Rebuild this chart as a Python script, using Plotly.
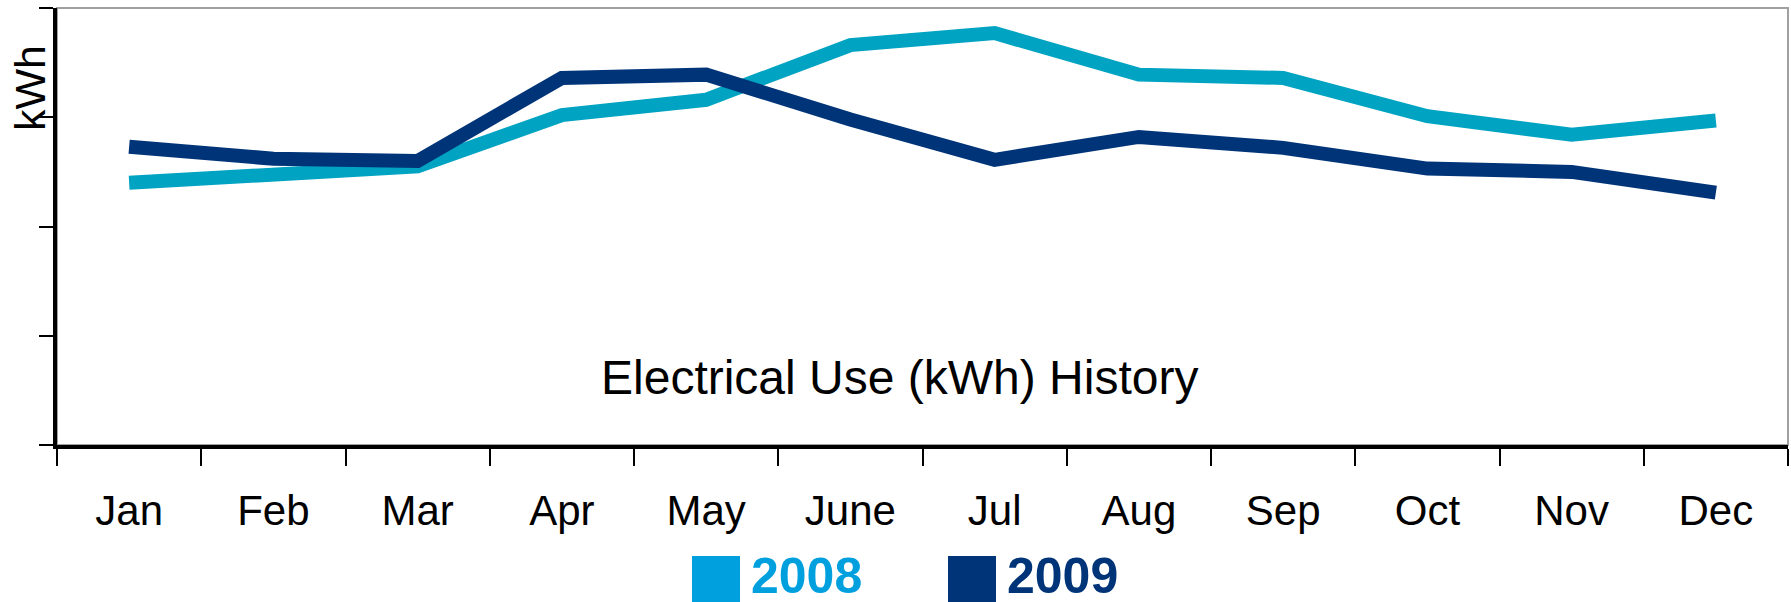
import plotly.graph_objects as go

months = ["Jan", "Feb", "Mar", "Apr", "May", "June", "Jul", "Aug", "Sep", "Oct", "Nov", "Dec"]
use_2008 = [240, 248, 255, 302, 316, 366, 377, 339, 336, 301, 284, 297]
use_2009 = [273, 262, 260, 336, 339, 298, 261, 282, 272, 253, 250, 231]
y_ticks = [0, 100, 200, 300, 400]
series_names = ["2008", "2009"]
line_colors = ["#00A3C1", "#003478"]
legend_colors = ["#00A0DF", "#003478"]

fig = go.Figure()
for name, vals, col in zip(series_names, [use_2008, use_2009], line_colors):
    fig.add_trace(go.Scatter(x=months, y=vals, mode="lines", name=name,
                             line=dict(color=col, width=14), showlegend=False))

W, H = 1791, 602
ml, mr, mt, mb = 57, 3, 8, 157
pw = W - ml - mr
ph = H - mt - mb


def px_x(px):
    return (px - ml) / pw


def px_y(py):
    return (H - mb - py) / ph


fig.update_layout(
    width=W, height=H,
    margin=dict(l=ml, r=mr, t=mt, b=mb),
    plot_bgcolor="white", paper_bgcolor="white",
    font=dict(family="Liberation Sans, Arial, sans-serif", color="black"),
    xaxis=dict(type="category", range=[-0.5, 11.5], tickson="boundaries",
               ticks="outside", ticklen=17, tickwidth=2, tickcolor="black",
               showline=True, linecolor="black", linewidth=4, showgrid=False,
               tickfont=dict(size=42), ticklabelstandoff=26, zeroline=False),
    yaxis=dict(range=[0, 400], tickvals=y_ticks, showticklabels=False,
               ticks="outside", ticklen=14, tickwidth=2, tickcolor="black",
               showline=True, linecolor="black", linewidth=4, showgrid=False,
               zeroline=False),
    showlegend=False,
)

# frame (top/right gray)
fig.add_shape(type="rect", xref="paper", yref="paper", x0=0, x1=1, y0=0, y1=1,
              line=dict(color="#A0A0A0", width=2), layer="below")

# y-axis title
fig.add_annotation(text="kWh", xref="paper", yref="paper", x=px_x(4), y=px_y(88),
                   xanchor="left", yanchor="middle", textangle=-90, showarrow=False,
                   font=dict(size=43, color="black"))

# chart title inside plot
fig.add_annotation(text="Electrical Use (kWh) History", xref="paper", yref="paper",
                   x=px_x(899), y=px_y(377), xanchor="center", yanchor="middle",
                   showarrow=False, font=dict(size=48, color="black"))

# legend (custom squares)
leg_sq = [(692, 740), (948, 996)]
for (x0, x1), name, col in zip(leg_sq, series_names, legend_colors):
    fig.add_shape(type="rect", xref="paper", yref="paper",
                  x0=px_x(x0), x1=px_x(x1), y0=px_y(602), y1=px_y(556),
                  line=dict(width=0), fillcolor=col)
    fig.add_annotation(text="<b>" + name + "</b>", xref="paper", yref="paper",
                       x=px_x(x1 + 9), y=px_y(576), xanchor="left", yanchor="middle",
                       showarrow=False, font=dict(size=50, color=col))

fig.write_html("out.html", config={"displayModeBar": False},
               post_script="document.body.style.margin='0px';")
